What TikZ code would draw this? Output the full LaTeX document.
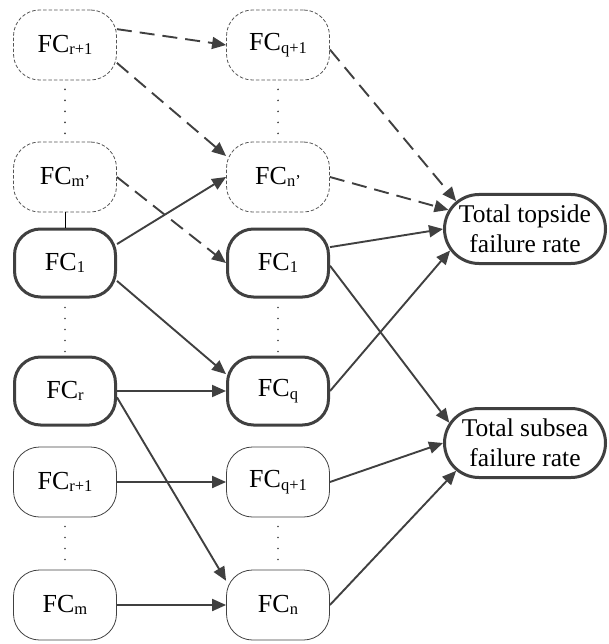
\documentclass[tikz,border=0pt]{standalone}
\usepackage{fontspec}
\setmainfont{Liberation Serif}
\usetikzlibrary{arrows.meta,shapes.misc}
\definecolor{ink}{HTML}{404040}
\definecolor{faint}{HTML}{555555}
% FC label with a lowered, smaller index
\newcommand\fcsub[1]{FC\raisebox{-2.5pt}{\fontsize{16.5}{16.5}\selectfont #1}}
\begin{document}
\begin{tikzpicture}[x=1pt,y=-1pt,
  fcbox/.style={rectangle, rounded corners=26pt, minimum width=103pt, minimum height=70pt,
    inner sep=0pt, draw=ink, line width=0.8pt, font=\fontsize{26}{30}\selectfont},
  fcghost/.style={fcbox, draw=faint, dash pattern=on 3.5pt off 2pt},
  fcmain/.style={fcbox, line width=3pt, minimum width=101pt, minimum height=68pt},
  totalbox/.style={rounded rectangle, draw=ink, line width=3pt, minimum width=161pt,
    minimum height=69pt, inner sep=0pt, align=center, font=\fontsize{25.5}{30}\selectfont},
  flow/.style={draw=ink, line width=1.9pt, -{Triangle[length=14pt,width=12pt]}},
  flowdash/.style={flow, dash pattern=on 15pt off 8pt},
  gap/.style={draw=ink, line width=1.8pt, line cap=round, dash pattern=on 0pt off 11pt, dash phase=2pt},
]
\useasboundingbox (0,0) rectangle (608,644);

% left column
\node[fcghost] (a1) at (65,45)  {\fcsub{r+1}};
\node[fcghost] (a2) at (65,177) {\fcsub{m’}};
\node[fcmain]  (a3) at (65,263) {\fcsub{1}};
\node[fcmain]  (a4) at (65,391) {\fcsub{r}};
\node[fcbox]   (a5) at (65,482) {\fcsub{r+1}};
\node[fcbox]   (a6) at (65,605) {\fcsub{m}};

% middle column
\node[fcghost] (b1) at (278,45)  {\fcsub{q+1}};
\node[fcghost] (b2) at (278,177) {\fcsub{n’}};
\node[fcmain]  (b3) at (278,263) {\fcsub{1}};
\node[fcmain]  (b4) at (278,391) {\fcsub{q}};
\node[fcbox]   (b5) at (278,482) {\fcsub{q+1}};
\node[fcbox]   (b6) at (278,605) {\fcsub{n}};

% totals
\node[totalbox] (t1) at (525,229) {Total topside\\failure rate};
\node[totalbox] (t2) at (525,443) {Total subsea\\failure rate};

% elided entries
\draw[gap] (a1.south) -- (a2.north);
\draw[gap] (a3.south) -- (a4.north);
\draw[gap] (a5.south) -- (a6.north);
\draw[gap] (b1.south) -- (b2.north);
\draw[gap] (b3.south) -- (b4.north);
\draw[gap] (b5.south) -- (b6.north);
\draw[black, line width=0.8pt] (a2.south) -- (a3.north);

% left to middle
\draw[flowdash] (a1.17) -- (b1.west);
\draw[flowdash] (a1.-19) -- (b2.158);
\draw[flowdash] (a2.east) -- (b3.west);
\draw[flow] (a3.20) -- (b2.west);
\draw[flow] (a3.-19) -- (b4.162);
\draw[flow] (a4.east) -- (b4.west);
\draw[flow] (a4.-7) -- (b6.155);
\draw[flow] (a5.east) -- (b5.west);
\draw[flow] (a6.east) -- (b6.west);

% middle to totals
\draw[flowdash] (b1.-5) -- (t1.158);
\draw[flowdash] (b2.east) -- (t1.166);
\draw[flow] (b3.17) -- (t1.west);
\draw[flow] (b4.east) -- (t1.196);
\draw[flow] (b3.-3) -- (t2.165);
\draw[flow] (b5.east) -- (t2.west);
\draw[flow] (b6.east) -- (t2.202);
\end{tikzpicture}
\end{document}
